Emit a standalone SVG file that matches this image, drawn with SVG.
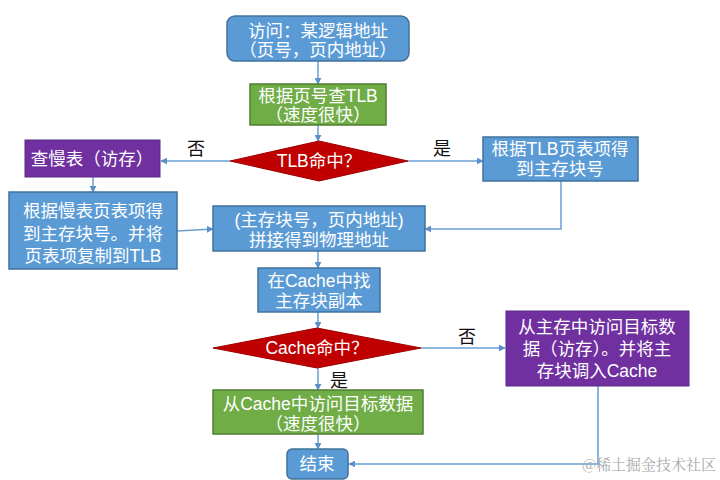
<svg xmlns="http://www.w3.org/2000/svg" width="720" height="480" viewBox="0 0 720 480">
<defs>
<marker id="arr" viewBox="0 0 10 10" refX="9" refY="5" markerWidth="7" markerHeight="7" markerUnits="userSpaceOnUse" orient="auto">
<path d="M0,0 L10,5 L0,10 z" fill="#5B8FC9"/>
</marker>
<style>
.blue{fill:#5B9BD5;stroke:#41719C;stroke-width:1.5}
.green{fill:#70AD47;stroke:#507E32;stroke-width:1.5}
.purple{fill:#7030A0;stroke:#5A2A85;stroke-width:1}
.red{fill:#C00000;stroke:#A00000;stroke-width:1}
.t{font-family:"Liberation Sans","Noto Sans CJK SC",sans-serif;font-size:17.5px;fill:#fff;text-anchor:middle}
.lbl{font-family:"Liberation Serif","Noto Sans CJK SC",serif;font-size:18px;fill:#111;text-anchor:middle}
.c{fill:none;stroke:#6A9FD4;stroke-width:1.5;marker-end:url(#arr)}
</style>
</defs>
<rect width="720" height="480" fill="#fff"/>
<g id="connectors">
<path class="c" d="M318,61 V84"/>
<path class="c" d="M318,125 V141"/>
<path class="c" d="M230,161 H161"/>
<path class="c" d="M408,161 H483"/>
<path class="c" d="M93,177 V192"/>
<path class="c" d="M177,231 L213,229"/>
<path class="c" d="M561,181 V229 H425"/>
<path class="c" d="M318,251 V268"/>
<path class="c" d="M318,312 V328"/>
<path class="c" d="M421,348 H505"/>
<path class="c" d="M318,368 V390"/>
<path class="c" d="M318,434 V449"/>
<path class="c" d="M598,386 V464 H349"/>
</g>
<g id="start">
<rect class="blue" x="227" y="16" width="182" height="45" rx="8"/>
<text class="t" x="318" y="37">访问：某逻辑地址</text>
<text class="t" x="318" y="56">（页号，页内地址）</text>
</g>
<g id="lookupTLB">
<rect class="green" x="250" y="84" width="136" height="41"/>
<text class="t" x="318" y="102">根据页号查TLB</text>
<text class="t" x="318" y="121">（速度很快）</text>
</g>
<g id="tlbHit">
<polygon class="red" points="319,141 408,161 319,181 230,161"/>
<text class="t" x="319" y="167">TLB命中？</text>
</g>
<text class="lbl" x="196" y="155">否</text>
<text class="lbl" x="442" y="155">是</text>
<g id="slowTable">
<rect class="purple" x="25" y="140" width="135" height="37"/>
<text class="t" x="92" y="165">查慢表（访存）</text>
</g>
<g id="tlbEntry">
<rect class="blue" x="483" y="137" width="155" height="44"/>
<text class="t" x="560" y="155">根据TLB页表项得</text>
<text class="t" x="560" y="175">到主存块号</text>
</g>
<g id="slowEntry">
<rect class="blue" x="9" y="192" width="168" height="77"/>
<text class="t" x="93" y="217">根据慢表页表项得</text>
<text class="t" x="93" y="240">到主存块号。并将</text>
<text class="t" x="93" y="262">页表项复制到TLB</text>
</g>
<g id="physAddr">
<rect class="blue" x="213" y="206" width="212" height="45"/>
<text class="t" x="319" y="226">(主存块号，页内地址)</text>
<text class="t" x="319" y="246">拼接得到物理地址</text>
</g>
<g id="findCache">
<rect class="blue" x="258" y="268" width="122" height="44"/>
<text class="t" x="319" y="287">在Cache中找</text>
<text class="t" x="319" y="307">主存块副本</text>
</g>
<g id="cacheHit">
<polygon class="red" points="317,328 421,348 317,368 213,348"/>
<text class="t" x="317" y="354">Cache命中？</text>
</g>
<text class="lbl" x="467" y="343">否</text>
<text class="lbl" x="339" y="387">是</text>
<g id="memAccess">
<rect class="purple" x="506" y="311" width="183" height="75"/>
<text class="t" x="597" y="333">从主存中访问目标数</text>
<text class="t" x="597" y="355">据（访存）。并将主</text>
<text class="t" x="597" y="377">存块调入Cache</text>
</g>
<g id="cacheAccess">
<rect class="green" x="213" y="390" width="210" height="44"/>
<text class="t" x="318" y="410">从Cache中访问目标数据</text>
<text class="t" x="318" y="430">（速度很快）</text>
</g>
<g id="end">
<rect class="blue" x="287" y="449" width="61" height="30" rx="5"/>
<text class="t" x="317" y="470">结束</text>
</g>
<text x="716" y="470" style="font-family:'Noto Serif CJK SC','Noto Sans CJK SC',serif;font-size:15px;fill:#aaa;text-anchor:end">@稀土掘金技术社区</text>
</svg>
